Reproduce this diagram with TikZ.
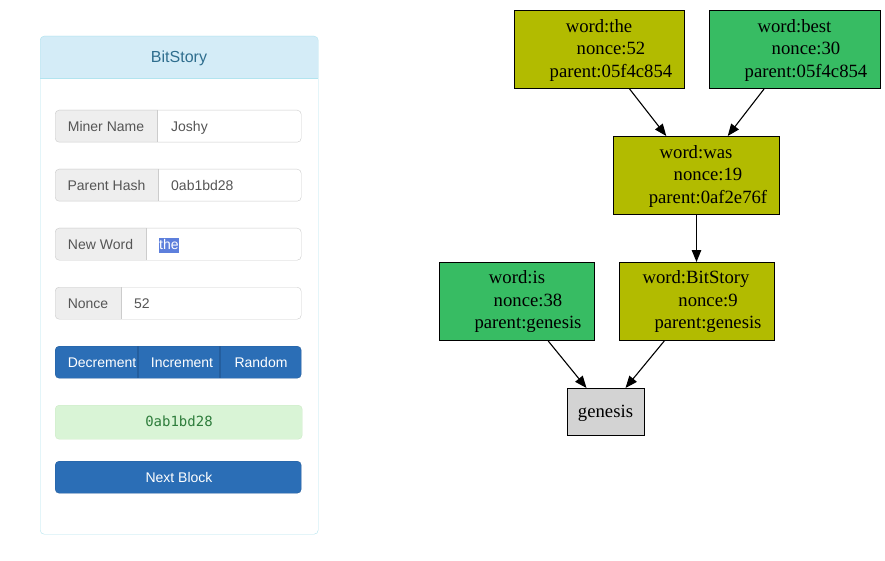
\documentclass[tikz,border=0pt]{standalone}
\usepackage{fontspec}
\setmainfont{Liberation Serif}
\newfontfamily\uifont{Liberation Sans}
\newfontfamily\codefont{DejaVu Sans Mono}
\usetikzlibrary{arrows.meta,calc}
\definecolor{panelborder}{HTML}{B2E4EF}
\definecolor{headfill}{HTML}{D4ECF7}
\definecolor{headtext}{HTML}{2F6E8E}
\definecolor{addon}{HTML}{EEEEEE}
\definecolor{inborder}{HTML}{CCCCCC}
\definecolor{uigray}{HTML}{555555}
\definecolor{btnblue}{HTML}{2B6EB6}
\definecolor{btnline}{HTML}{245E9E}
\definecolor{hlblue}{HTML}{5D7FDC}
\definecolor{alertfill}{HTML}{D9F4D6}
\definecolor{alertborder}{HTML}{CDEBC6}
\definecolor{alerttext}{HTML}{2E7D3C}
\definecolor{olive}{HTML}{B2BB00}
\definecolor{mygreen}{HTML}{37BC63}
\definecolor{genfill}{HTML}{D3D3D3}
\newcommand\igroup[5]{%
  \fill[white,rounded corners=4pt] (55,#2) rectangle (301,{#2+32});
  \fill[addon] (#3,#2) [rounded corners=4pt] -- (55,#2) -- (55,{#2+32}) [sharp corners] -- (#3,{#2+32}) -- cycle;
  \draw[inborder] (#3,#2) -- (#3,{#2+32});
  \node[draw=inborder, rounded corners=4pt, minimum width=246pt, minimum height=32pt, inner sep=0pt, anchor=north west] (#1) at (55,#2) {};
  \node[uitext, anchor=base] (#1l) at ({(55+#3)/2},{#2+21.5}) {#4};
}
\begin{document}
\begin{tikzpicture}[x=1pt,y=-1pt,
  uitext/.style={font=\uifont\fontsize{14}{17}\selectfont, text=uigray, inner sep=0pt},
  btntext/.style={font=\uifont\fontsize{14}{17}\selectfont, text=white, inner sep=0pt, anchor=base},
  gnode/.style={draw=black, line width=1pt, inner sep=0pt, anchor=north west},
  gtext/.style={font=\fontsize{18.7}{22}\selectfont, inner sep=0pt, anchor=base},
  edge/.style={draw=black, line width=1.1pt, -{Triangle[length=12pt,width=9.5pt]}}]
\useasboundingbox (0,0) rectangle (885,561);
% ---------- panel ----------
\fill[white, rounded corners=4pt] (40,36) rectangle (318,534);
\fill[headfill] (40,78) [rounded corners=4pt] -- (40,36) -- (318,36) [sharp corners] -- (318,78) -- cycle;
\draw[panelborder] (40,78) -- (318,78);
\node[draw=panelborder, rounded corners=4pt, minimum width=278pt, minimum height=498pt, inner sep=0pt, anchor=north west] (panel) at (40,36) {};
\node[font=\uifont\fontsize{16}{19}\selectfont, text=headtext, inner sep=0pt, anchor=base] (title) at (179,62.7) {BitStory};
% ---------- inputs ----------
\igroup{miner}{110}{157}{Miner Name}{}
\node[uitext, anchor=base west] (minerv) at (171,131.5) {Joshy};
\igroup{parent}{169}{158}{Parent Hash}{}
\node[uitext, anchor=base west] (parentv) at (171,190.5) {0ab1bd28};
\igroup{word}{228}{146}{New Word}{}
\node[uitext, anchor=base west, fill=hlblue, text=white, inner xsep=0.5pt, text height=11.5pt, text depth=3pt] (wordv) at (158.5,249.5) {the};
\igroup{nonce}{287}{121}{Nonce}{}
\node[uitext, anchor=base west] (noncev) at (134,308.5) {52};
% ---------- button group ----------
\node[fill=btnblue, draw=btnline, rounded corners=4pt, minimum width=246pt, minimum height=32pt, inner sep=0pt, anchor=north west] (btns) at (55,346) {};
\draw[btnline, line width=1.2pt] (138,346) -- (138,378) (220,346) -- (220,378);
\node[btntext] (dec) at (102,367.5) {Decrement};
\node[btntext] (inc) at (182,367.5) {Increment};
\node[btntext] (rnd) at (261,367.5) {Random};
% ---------- alert ----------
\node[fill=alertfill, draw=alertborder, rounded corners=4pt, minimum width=247pt, minimum height=34pt, inner sep=0pt, anchor=north west] (alert) at (55,405) {};
\node[font=\codefont\fontsize{14}{17}\selectfont, text=alerttext, inner sep=0pt, anchor=base] (hash) at (179,426.7) {0ab1bd28};
% ---------- next block ----------
\node[fill=btnblue, draw=btnline, rounded corners=4pt, minimum width=246pt, minimum height=32pt, inner sep=0pt, anchor=north west] (next) at (55,461) {};
\node[btntext] (nextl) at (179,482.3) {Next Block};
% ---------- graph ----------
\node[gnode, fill=olive, minimum width=170pt, minimum height=78pt] (the) at (514,10) {};
\node[gtext] (the1) at (599,32.3) {word:the};
\node[gtext] (the2) at (611,55) {nonce:52};
\node[gtext] (the3) at (611,77.3) {parent:05f4c854};
\node[gnode, fill=mygreen, minimum width=171pt, minimum height=78pt] (best) at (709,10) {};
\node[gtext] (best1) at (794.5,32.3) {word:best};
\node[gtext] (best2) at (806,55) {nonce:30};
\node[gtext] (best3) at (806,77.3) {parent:05f4c854};
\node[gnode, fill=olive, minimum width=166pt, minimum height=78pt] (was) at (613,136) {};
\node[gtext] (was1) at (696,158.3) {word:was};
\node[gtext] (was2) at (708,181) {nonce:19};
\node[gtext] (was3) at (708,203.3) {parent:0af2e76f};
\node[gnode, fill=mygreen, minimum width=155pt, minimum height=78pt] (is) at (439,262) {};
\node[gtext] (is1) at (517,283.5) {word:is};
\node[gtext] (is2) at (528,306) {nonce:38};
\node[gtext] (is3) at (528,328.5) {parent:genesis};
\node[gnode, fill=olive, minimum width=155pt, minimum height=78pt] (bit) at (619,262) {};
\node[gtext] (bit1) at (696,283.5) {word:BitStory};
\node[gtext] (bit2) at (708,306) {nonce:9};
\node[gtext] (bit3) at (708,328.5) {parent:genesis};
\node[gnode, fill=genfill, minimum width=77pt, minimum height=47pt] (gen) at (567,388) {};
\node[gtext] (gen1) at (605.5,417.5) {genesis};
% edges
\draw[edge] ($(the.south west)!0.676!(the.south east)$) -- ($(was.north west)!0.319!(was.north east)$);
\draw[edge] ($(best.south west)!0.32!(best.south east)$) -- ($(was.north west)!0.687!(was.north east)$);
\draw[edge] (was.south) -- (was.south |- bit.north);
\draw[edge] ($(is.south west)!0.70!(is.south east)$) -- ($(gen.north west)!0.25!(gen.north east)$);
\draw[edge] ($(bit.south west)!0.29!(bit.south east)$) -- ($(gen.north west)!0.75!(gen.north east)$);
\end{tikzpicture}
\end{document}
